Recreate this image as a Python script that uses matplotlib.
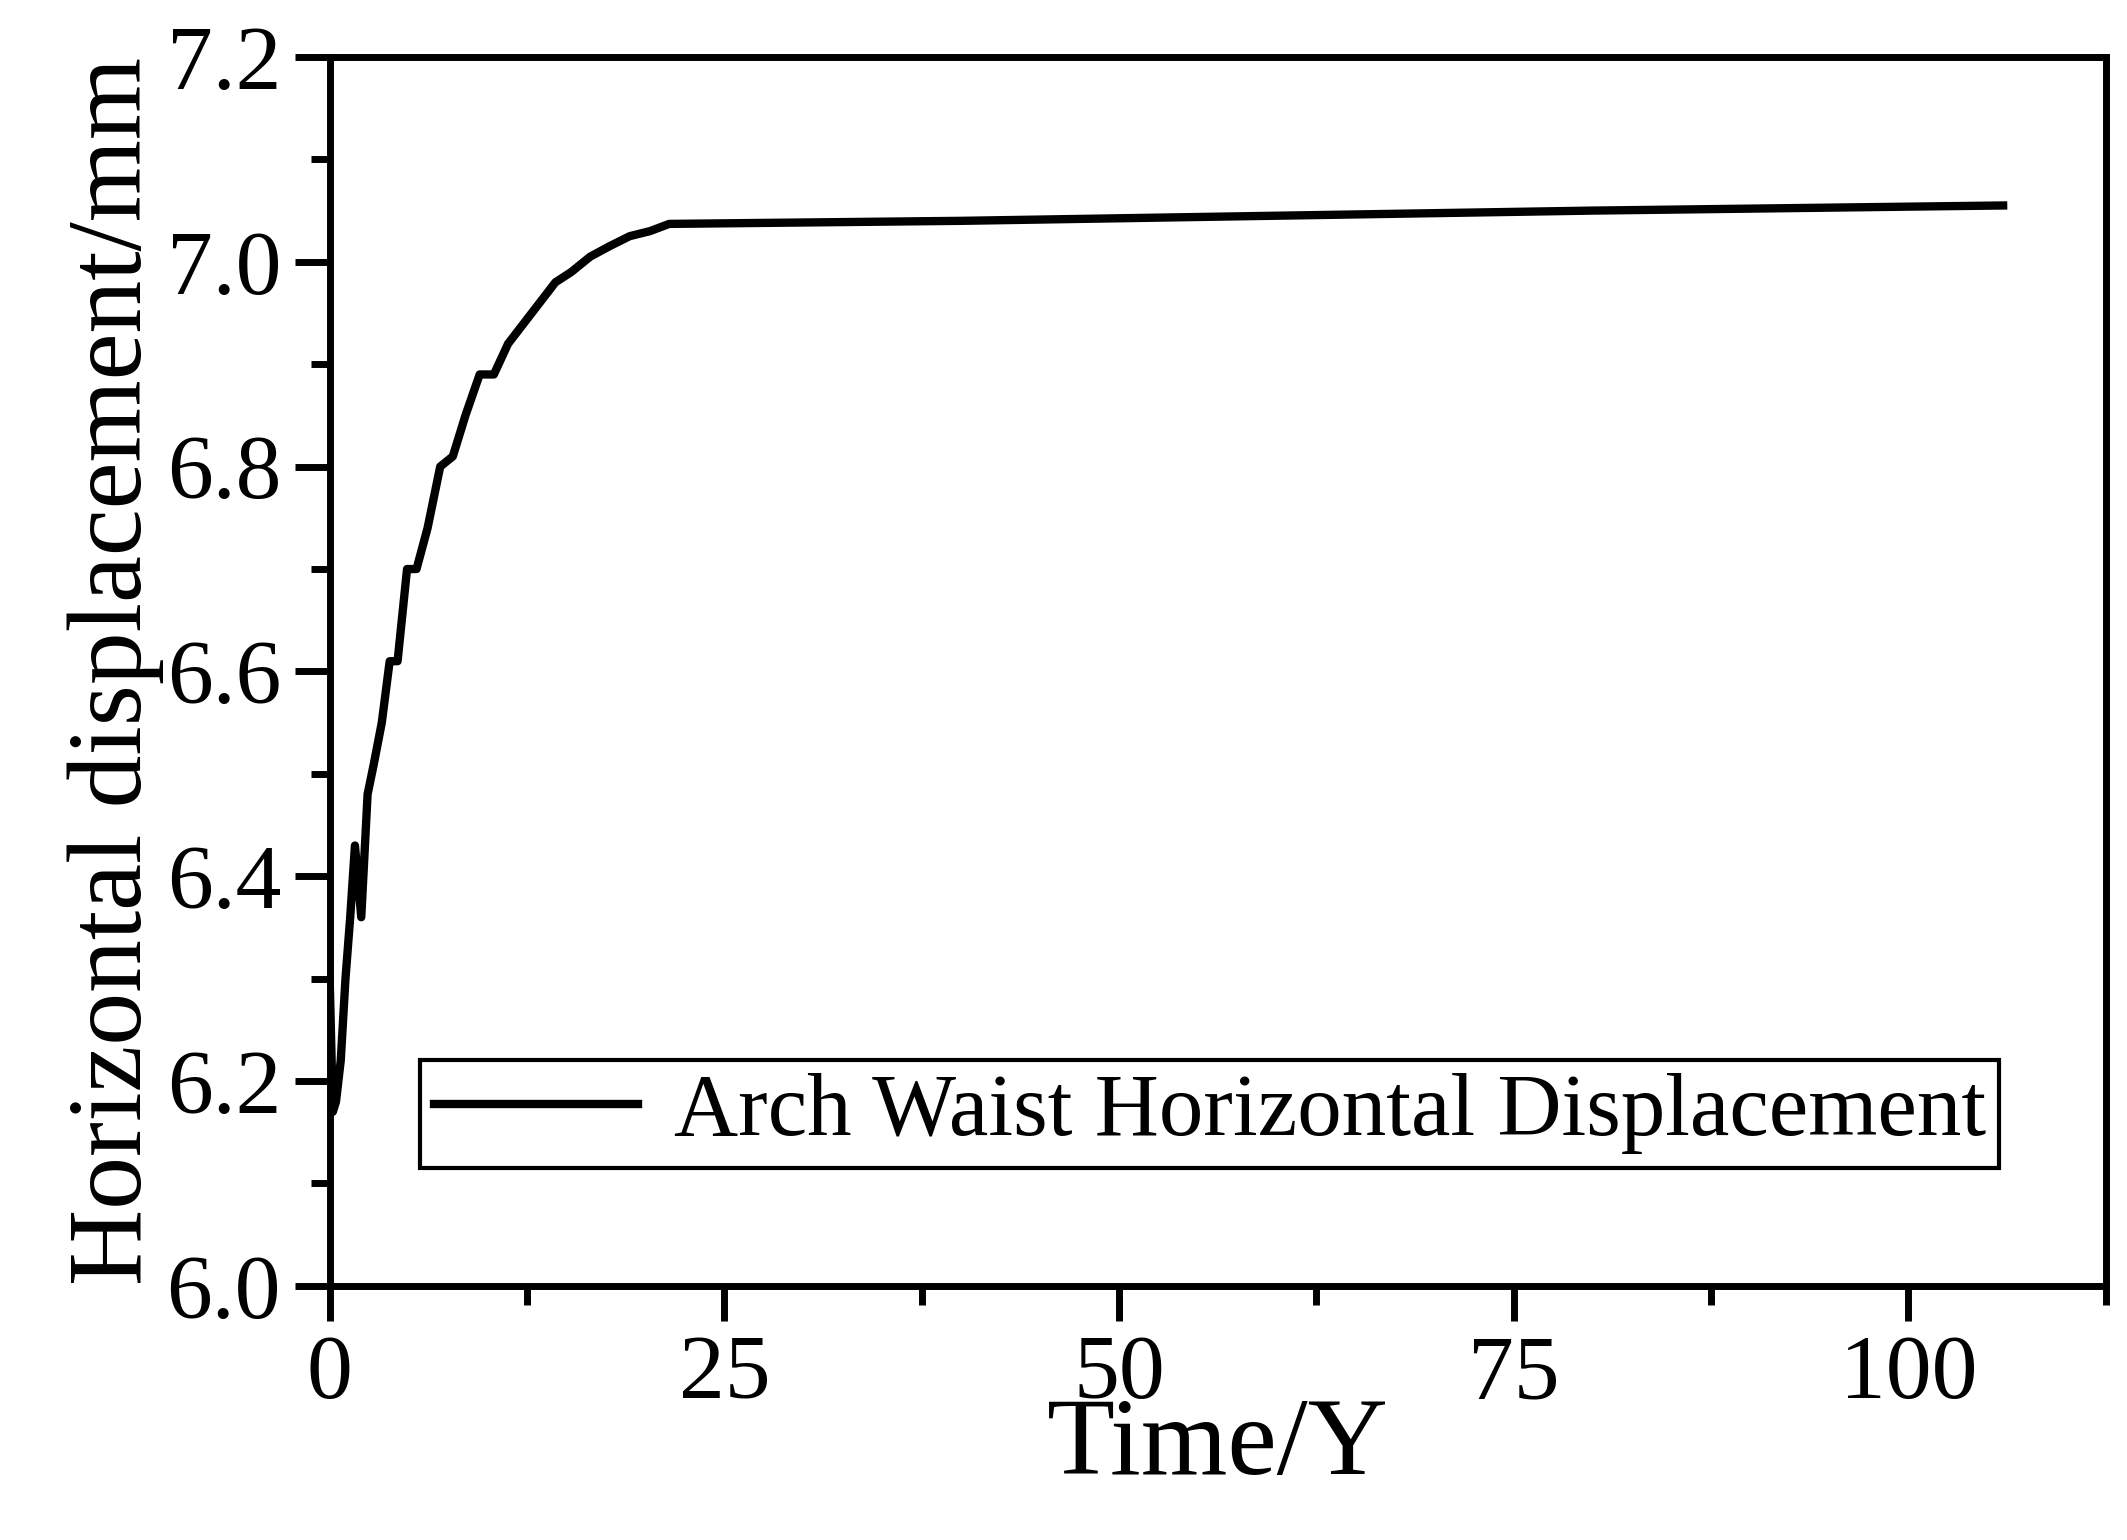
import matplotlib
matplotlib.use("Agg")
import matplotlib.pyplot as plt
from matplotlib.ticker import MultipleLocator, FormatStrFormatter

# Arch waist horizontal displacement vs time
time_y = [0, 0.2, 0.4, 0.7, 1.0, 1.3, 1.6, 2.0, 2.4, 2.8, 3.3, 3.8, 4.3, 4.9, 5.5,
          6.2, 7.0, 7.8, 8.6, 9.5, 10.4, 11.3, 12.3, 13.3, 14.3, 15.3, 16.5,
          17.7, 19.0, 20.3, 21.5, 40, 60, 80, 106]
disp_mm = [6.30, 6.17, 6.18, 6.22, 6.30, 6.36, 6.43, 6.36, 6.48, 6.51, 6.55, 6.61,
           6.61, 6.70, 6.70, 6.74, 6.80, 6.81, 6.85, 6.89, 6.89, 6.92, 6.94, 6.96,
           6.98, 6.99, 7.005, 7.015, 7.025, 7.03, 7.037, 7.04, 7.045, 7.05, 7.055]

plt.rcParams["font.family"] = ["Liberation Serif", "DejaVu Serif"]

fig = plt.figure(figsize=(21.27, 15.40), dpi=100)
ax = fig.add_axes([0.155, 0.165, 0.835, 0.798])

ax.plot(time_y, disp_mm, color="black", linewidth=6,
        label="Arch Waist Horizontal Displacement")

ax.set_xlim(0, 112.5)
ax.set_ylim(6.0, 7.2)
ax.xaxis.set_major_locator(MultipleLocator(25))
ax.xaxis.set_minor_locator(MultipleLocator(12.5))
ax.yaxis.set_major_locator(MultipleLocator(0.2))
ax.yaxis.set_minor_locator(MultipleLocator(0.1))
ax.yaxis.set_major_formatter(FormatStrFormatter("%.1f"))

for s in ax.spines.values():
    s.set_linewidth(5)
ax.tick_params(which="major", length=25, width=5, labelsize=66, pad=10)
ax.tick_params(which="minor", length=14, width=5)

ax.set_xlabel("Time/Y", fontsize=80, labelpad=-14)
ax.set_ylabel("Horizontal displacement/mm", fontsize=76, labelpad=2)

leg = ax.legend(loc="lower right", bbox_to_anchor=(0.965, 0.06), fontsize=64,
                frameon=True, fancybox=False, handlelength=2.3, borderpad=0.15,
                handletextpad=0.4)
leg.get_frame().set_edgecolor("black")
leg.get_frame().set_linewidth(3)
leg.get_frame().set_alpha(1)

fig.savefig("out.png", dpi=100)
